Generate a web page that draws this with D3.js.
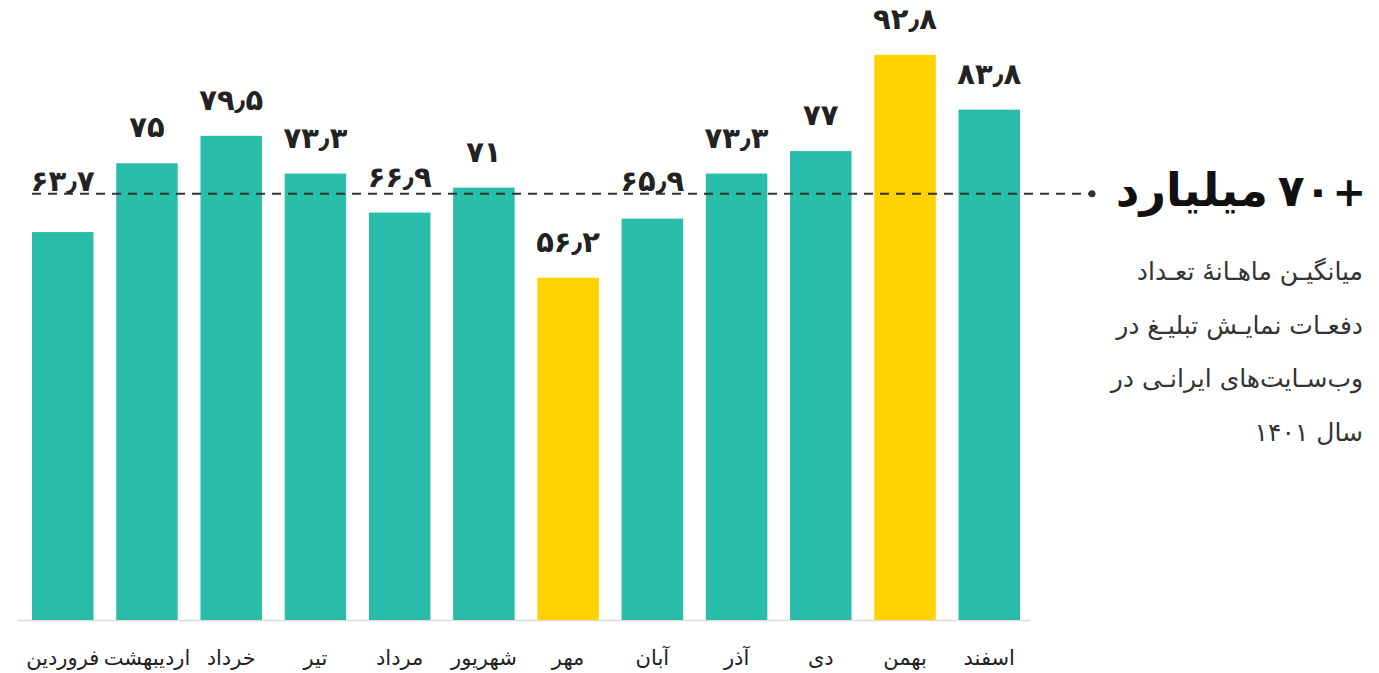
<!DOCTYPE html>
<html>
<head>
<meta charset="utf-8">
<script src="https://cdn.jsdelivr.net/npm/d3@7"></script>
<style>
  body { margin: 0; background: #fff; }
  svg { display: block; font-family: "DejaVu Sans", "Noto Sans", sans-serif; }
</style>
</head>
<body>
<svg id="chart" width="1379" height="673"></svg>
<script>
// months of 1401, left to right as drawn
var months = ["فروردین", "اردیبهشت", "خرداد", "تیر", "مرداد", "شهریور", "مهر", "آبان", "آذر", "دی", "بهمن", "اسفند"];
// monthly ad impressions (billion)
var values = [63.7, 75, 79.5, 73.3, 66.9, 71, 56.2, 65.9, 73.3, 77, 92.8, 83.8];
// bars drawn in the highlight colour
var highlighted = ["مهر", "بهمن"];
var refValue = 70;
var titleNum = "۷۰";
var titleWord = "میلیارد";
var noteLines = ["میانگیـن ماهـانهٔ تعـداد", "دفعـات نمایـش تبلیـغ در", "وب‌سـایت‌های ایرانـی در", "سال ۱۴۰۱"];

var teal = "#29bca8", yellow = "#ffd200", ink = "#222";

// persian digits with decimal mark
function fa(v) {
  var s = String(v).replace(".", "٫");
  return s.replace(/[0-9]/g, function(c){ return "۰۱۲۳۴۵۶۷۸۹"[+c]; });
}

var svg = d3.select("#chart");

var x = d3.scaleBand().domain(months).range([32, 1020]).paddingInner(0.27).paddingOuter(0);
var y = d3.scaleLinear().domain([0, 100]).range([620, 11]);

var data = months.map(function(m, i){ return {month: m, value: values[i]}; });

// baseline
svg.append("line")
  .attr("x1", 18).attr("x2", 1030)
  .attr("y1", y(0) + 0.5).attr("y2", y(0) + 0.5)
  .attr("stroke", "#dcdcdc").attr("stroke-width", 1.5);

svg.selectAll(".bar")
  .data(data)
  .enter().append("rect")
    .attr("class", "bar")
    .attr("x", function(d){ return x(d.month); })
    .attr("y", function(d){ return y(d.value); })
    .attr("width", x.bandwidth())
    .attr("height", function(d){ return y(0) - y(d.value); })
    .attr("fill", function(d){ return highlighted.indexOf(d.month) >= 0 ? yellow : teal; });

// value labels (never sink below the dashed line)
svg.selectAll(".val")
  .data(data)
  .enter().append("text")
    .attr("class", "val")
    .attr("x", function(d){ return x(d.month) + x.bandwidth() / 2; })
    .attr("y", function(d){
      var ly = y(d.value) - 26;
      if (d.value > 60 && d.value < refValue) ly = Math.min(ly, y(refValue) - 3);
      return ly;
    })
    .attr("text-anchor", "middle")
    .attr("font-size", 29)
    .attr("font-weight", "bold")
    .attr("fill", ink)
    .text(function(d){ return fa(d.value); });

// month labels
svg.selectAll(".month")
  .data(data)
  .enter().append("text")
    .attr("class", "month")
    .attr("x", function(d){ return x(d.month) + x.bandwidth() / 2; })
    .attr("y", 665)
    .attr("text-anchor", "middle")
    .attr("font-size", 21)
    .attr("fill", ink)
    .text(function(d){ return d.month; });

// reference line at 70
svg.append("line")
  .attr("x1", 32).attr("x2", 1090)
  .attr("y1", y(refValue)).attr("y2", y(refValue))
  .attr("stroke", "#333").attr("stroke-width", 2)
  .attr("stroke-dasharray", "9,7");
svg.append("circle")
  .attr("cx", 1092).attr("cy", y(refValue)).attr("r", 3.5)
  .attr("fill", "#333");

// annotation on the right: number block and word drawn as two pieces
svg.append("text")
  .attr("x", 1366).attr("y", 206)
  .attr("text-anchor", "end")
  .attr("font-size", 44)
  .attr("font-weight", "bold")
  .attr("fill", "#111")
  .attr("letter-spacing", -3)
  .text(titleNum)
  .append("tspan").attr("font-size", 40).attr("dx", 1).text("+");
svg.append("text")
  .attr("x", 1268).attr("y", 206)
  .attr("direction", "rtl")
  .attr("text-anchor", "start")
  .attr("font-size", 46)
  .attr("font-weight", "bold")
  .attr("fill", "#111")
  .text(titleWord);

svg.selectAll(".note")
  .data(noteLines)
  .enter().append("text")
    .attr("class", "note")
    .attr("x", 1363)
    .attr("y", function(d, i){ return 280 + i * 53.5; })
    .attr("direction", "rtl")
    .attr("text-anchor", "start")
    .attr("font-size", 25)
    .attr("fill", "#333")
    .text(function(d){ return d; });
</script>
</body>
</html>
